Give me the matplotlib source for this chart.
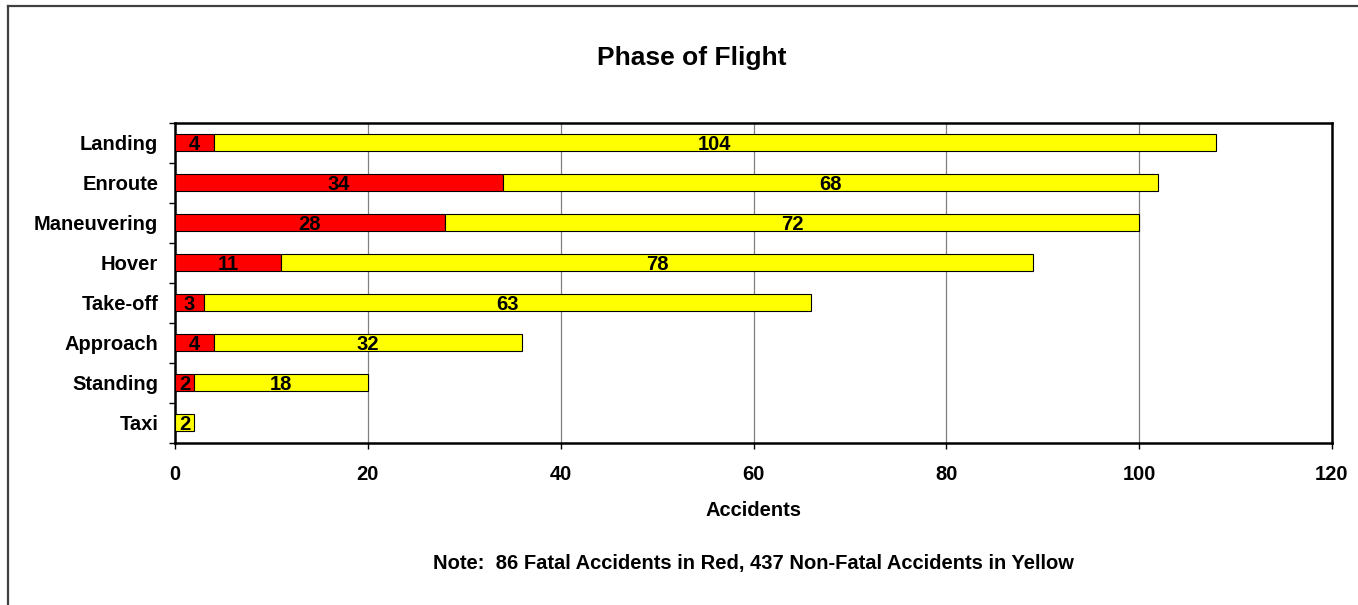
import numpy as np
import matplotlib
matplotlib.use('Agg')
import matplotlib.pyplot as plt
from matplotlib.lines import Line2D
from matplotlib.ticker import FixedLocator

# data, top to bottom
phases = ['Landing', 'Enroute', 'Maneuvering', 'Hover', 'Take-off', 'Approach', 'Standing', 'Taxi']
fatal = [4, 34, 28, 11, 3, 4, 2, 0]
non_fatal = [104, 68, 72, 78, 63, 32, 18, 2]
x_ticks = [0, 20, 40, 60, 80, 100, 120]

plt.rcParams['font.family'] = ['Liberation Sans', 'DejaVu Sans']
plt.rcParams['font.weight'] = 'bold'

W, H = 1358, 605
fig = plt.figure(figsize=(W / 100, H / 100), dpi=100)
ax = fig.add_axes([175 / W, 1 - 442.5 / H, (1332 - 175) / W, (442.5 - 122.5) / H])

y = np.arange(len(phases))
fatal = np.array(fatal)
non_fatal = np.array(non_fatal)

ax.barh(y, fatal, height=0.43, color='#ff0000', edgecolor='black', linewidth=0.8, zorder=3)
ax.barh(y, non_fatal, left=fatal, height=0.43, color='#ffff00', edgecolor='black', linewidth=0.8, zorder=3)

# value labels centred in each segment
for i in range(len(phases)):
    if fatal[i] > 0:
        ax.text(fatal[i] / 2, y[i], str(fatal[i]), ha='center', va='center_baseline',
                fontsize=14.5, fontweight='bold', zorder=4)
    if non_fatal[i] > 0:
        ax.text(fatal[i] + non_fatal[i] / 2, y[i], str(non_fatal[i]), ha='center', va='center_baseline',
                fontsize=14.5, fontweight='bold', zorder=4)

ax.set_xlim(0, 120)
ax.set_ylim(len(phases) - 0.5, -0.5)
ax.set_xticks(x_ticks)
ax.set_xticklabels([str(t) for t in x_ticks], fontsize=14.5, fontweight='bold')
ax.set_yticks(y)
ax.set_yticklabels(phases, fontsize=14.5, fontweight='bold')
ax.yaxis.set_minor_locator(FixedLocator(np.arange(-0.5, len(phases), 1.0)))
ax.tick_params(axis='y', which='major', length=0, pad=12)
ax.tick_params(axis='y', which='minor', length=4, width=1, direction='out')
ax.tick_params(axis='x', which='major', length=4, width=1, direction='out', pad=12)

ax.grid(axis='x', color='#808080', linewidth=0.9, zorder=0)
ax.set_axisbelow(True)
for s in ax.spines.values():
    s.set_linewidth(1.8)
    s.set_color('black')

fig.text(692 / W, 1 - 56 / H, 'Phase of Flight', ha='center', va='center_baseline', fontsize=19, fontweight='bold')
fig.text(754 / W, 1 - 509 / H, 'Accidents', ha='center', va='center_baseline', fontsize=14.5, fontweight='bold')
fig.text(753 / W, 1 - 562 / H, 'Note:  86 Fatal Accidents in Red, 437 Non-Fatal Accidents in Yellow',
         ha='center', va='center_baseline', fontsize=14.5, fontweight='bold')

# outer frame (left and top edges visible)
fx = 8 / W
fy = 1 - 6 / H
fig.add_artist(Line2D([fx, fx], [0, fy], transform=fig.transFigure, color='#404040', linewidth=1.6))
fig.add_artist(Line2D([fx, 1], [fy, fy], transform=fig.transFigure, color='#404040', linewidth=1.6))

fig.savefig('out.png', dpi=100, facecolor='white')
